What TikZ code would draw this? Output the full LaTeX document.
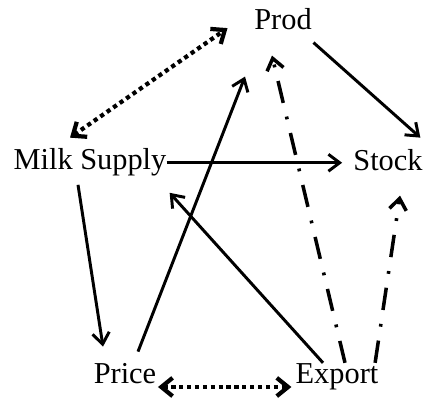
\documentclass[tikz,border=0pt]{standalone}
\usepackage{fontspec}
\setmainfont{Liberation Serif}
\usepackage{tikz}
\usetikzlibrary{arrows.meta, calc}
\tikzstyle{var} = [inner sep=0, anchor=base, font=\fontsize{21.6}{26}\selectfont]
\tikzstyle{arrow} = [line width=2.1pt, -{Straight Barb[length=8pt,width=12pt]}]
\tikzstyle{twoway} = [line width=3pt, dash pattern=on 3pt off 2.6pt, {Straight Barb[length=8pt,width=13pt]}-{Straight Barb[length=8pt,width=13pt]}]
\tikzstyle{dashdotarrow} = [line width=2.5pt, dash pattern=on 16pt off 10pt on 2pt off 10pt, -{Straight Barb[length=8pt,width=12pt]}]

\begin{document}
\begin{tikzpicture}[x=0.025cm, y=-0.025cm]
                            \useasboundingbox (0, 0) rectangle (427, 405);
                            \node [var] (prod) at (283, 30) {Prod};
                            \node [var] (milk) at (90, 170) {Milk Supply};
                            \node [var] (stock) at (388, 171) {Stock};
                            \node [var] (price) at (125, 383) {Price};
                            \node [var] (export) at (337, 383) {Export};
                            \draw [twoway] ($(milk.north)+(-20, -11)$) -- ($(prod.west)+(-26.5, 8.5)$);
                            \draw [arrow] ($(prod.south east)+(1.5, 12)$) -- ($(stock.north east)+(-2.5, -12)$);
                            \draw [arrow] (milk.east) -- ($(milk.east -| stock.west)+(-11, 0)$);
                            \draw [arrow] ($(price.north)+(13, -11)$) -- ($(prod.south)+(-38, 46)$);
                            \draw [arrow] ($(milk.south)+(-12, 8)$) -- ($(price.north)+(-22, -16)$);
                            \draw [arrow] ($(export.north)+(-14, 0)$) -- ($(milk.south east)+(3, 16)$);
                            \draw [dashdotarrow] ($(export.north)+(8, 0)$) -- ($(prod.south)+(-11, 25)$);
                            \draw [dashdotarrow] ($(export.north east)+(-3.5, 0)$) -- ($(stock.south)+(12, 24)$);
                            \draw [twoway] ($(price.base east)+(1.5, 4)$) -- ($(export.base west)+(-4, 4)$);
\end{tikzpicture}
\end{document}
